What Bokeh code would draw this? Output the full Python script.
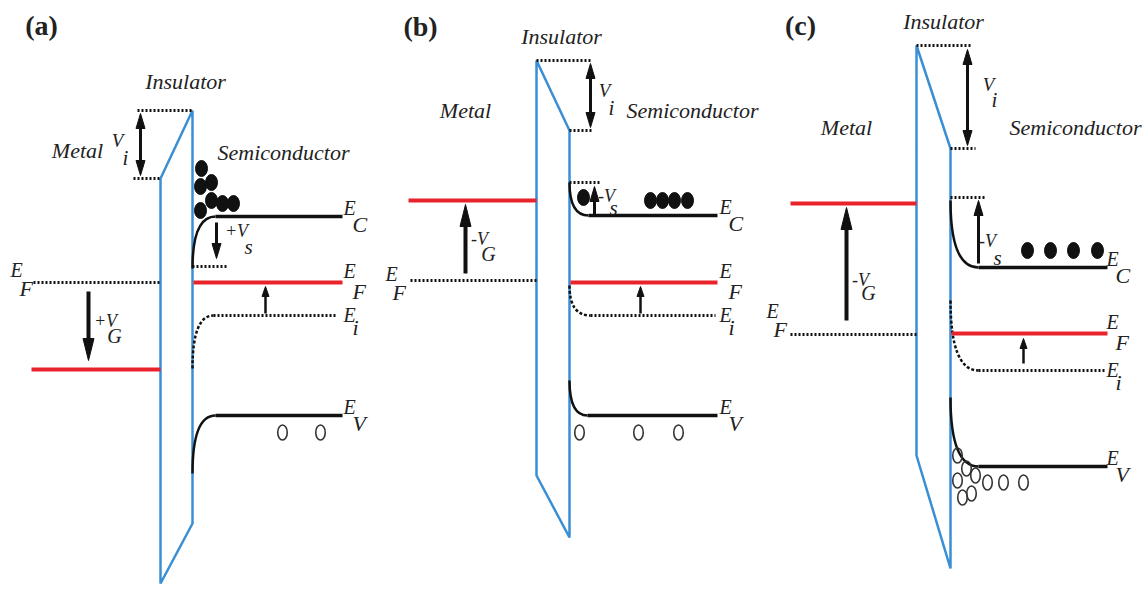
from bokeh.plotting import figure
from bokeh.models import Range1d
from bokeh.core.properties import value
from bokeh.embed import file_html
from bokeh.resources import INLINE

# ---------------- data (pixel-space schematic, y grows downward) ----------------
panel_labels = ["(a)", "(b)", "(c)"]
panel_label_x = [41, 420, 800]
panel_label_y = [25, 26, 25]

# insulator outline corners
ins_lx = [160, 536, 916]
ins_rx = [192, 569, 950]
ins_l_top = [178, 60, 45]
ins_r_top = [110, 130, 148]
ins_l_bot = [583, 475, 455]
ins_r_bot = [523, 537, 568]

# V_i guide dotted lines
vi_top_y = [110, 60, 45]
vi_top_x0 = [137, 536, 916]
vi_top_x1 = [192, 592, 972]
vi_bot_y = [178, 130, 148]
vi_bot_x0 = [133, 569, 950]
vi_bot_x1 = [160, 592, 975]

# metal side
metal_x0 = [33, 410, 790]
metal_ef_y = [282, 280, 334]       # original Fermi level (dotted)
metal_red_x0 = [31, 408, 790]
metal_red_y = [369, 200, 203]      # shifted metal Fermi level (red)

# semiconductor bands: bulk level, surface level, bending width
semi_x1 = [342, 717, 1107]
ec_y = [216, 215, 267]
ec_surf = [268, 182, 200]
ec_bend = [23, 19, 28]
ei_y = [315, 315, 370]
ei_x1 = [336, 715, 1106]
ei_surf = [368, 285, 300]
ei_bend = [21, 21, 28]
ev_y = [415, 415, 466]
ev_surf = [473, 380, 397]
ev_bend = [23, 18, 28]
ef_y = [282, 282, 333]

# surface potential dotted guide
vs_guide_y = [266, 182, 197]
vs_guide_x1 = [227, 600, 985]

# arrows (x, from, to)
vg_x = [88, 465, 846]
vg_y0 = [291, 273, 320]
vg_y1 = [360, 204, 207]
vi_x = [140, 590, 967]
vi_y0 = [113, 63, 49]
vi_y1 = [175, 127, 145]
vs_x = [216, 594, 978]
vs_y0 = [222, 214, 263]
vs_y1 = [258, 186, 200]
efs_x = [265, 640, 1023]
efs_y0 = [313, 313, 363]
efs_y1 = [286, 286, 338]

# carriers
electron_x = [201, 211, 200, 211, 200, 222, 233,
              583, 650, 662, 674, 687,
              1027, 1050, 1073, 1097]
electron_y = [168, 182, 186, 200, 210, 203, 203,
              197, 200, 200, 200, 200,
              250, 250, 250, 250]
hole_x = [282, 320, 579, 638, 678,
          957, 966, 957, 975, 962, 971, 987, 1003, 1023]
hole_y = [432, 432, 432, 432, 432,
          455, 468, 480, 475, 497, 493, 482, 482, 482]

# texts
ins_text_x = [185, 561, 943]
ins_text_y = [81, 36, 21]
metal_text_x = [77, 465, 846]
metal_text_y = [150, 110, 127]
semi_text_x = [283, 692, 1075]
semi_text_y = [152, 110, 127]

vi_lab_x = [117, 604, 988]
vi_lab_y = [140, 90, 84]
vi_sub_x = [125, 611, 994]
vi_sub_y = [157, 107, 99]

vs_lab = ["+V", "-V", "-V"]
vs_lab_x = [236, 606, 987]
vs_lab_y = [230, 195, 240]
vs_sub_x = [248, 613, 997]
vs_sub_y = [246, 207, 257]

vg_lab = ["+V", "-V", "-V"]
vg_lab_x = [105, 479, 860]
vg_lab_y = [320, 238, 279]
vg_sub_x = [114, 488, 868]
vg_sub_y = [335, 253, 292]

mef_E_x = [10, 385, 766]
mef_E_y = [269, 273, 310]
mef_sub_x = [19, 392, 773]
mef_sub_y = [288, 292, 329]

band_lab_x = [343, 719, 1106]
band_sub_dx = 9
band_names = ["C", "F", "i", "V"]
band_E_dy = [-9, -12, -1, -9]
band_sub_dy = [8, 9, 12, 8]

# ---------------- styling ----------------
BLUE = "#3a8fd4"
RED = "#e8232b"
BLACK = "#111111"
TXT = "#222222"
FONT = "Liberation Serif"

W, H = 1143, 590
p = figure(width=W, height=H, x_range=Range1d(0, W), y_range=Range1d(H, 0),
           x_axis_type=None, y_axis_type=None, toolbar_location=None,
           output_backend="svg", min_border=0, outline_line_color=None)
p.background_fill_color = "white"
p.border_fill_color = "white"
p.grid.visible = False


def txt(xs, ys, texts, size, align="left", style="italic", font=FONT):
    p.text(x=xs, y=ys, text=texts, text_font=value(font),
           text_font_size=f"{size}px", text_font_style=style,
           text_align=align, text_baseline="middle", text_color=TXT)


def arrows(xs, y0s, y1s, head_len, head_w, shaft, double=False):
    sx, sy0, sy1, tx, ty = [], [], [], [], []
    for x, a, b in zip(xs, y0s, y1s):
        d = 1 if b > a else -1
        start = a + d * head_len if double else a
        end = b - d * head_len
        sx.append(x); sy0.append(start); sy1.append(end)
        tx.append([x, x - head_w / 2, x + head_w / 2])
        ty.append([b, end, end])
        if double:
            tx.append([x, x - head_w / 2, x + head_w / 2])
            ty.append([a, start, start])
    p.segment(x0=sx, y0=sy0, x1=sx, y1=sy1, line_color=BLACK, line_width=shaft)
    p.patches(xs=tx, ys=ty, fill_color=BLACK, line_color=BLACK, line_width=1)


# insulator outline
p.patches(xs=[[lx, rx, rx, lx] for lx, rx in zip(ins_lx, ins_rx)],
          ys=[[lt, rt, rb, lb] for lt, rt, rb, lb in zip(ins_l_top, ins_r_top, ins_r_bot, ins_l_bot)],
          fill_alpha=0, line_color=BLUE, line_width=2.5)

# V_i guides
p.segment(x0=vi_top_x0, y0=vi_top_y, x1=vi_top_x1, y1=vi_top_y,
          line_color=BLACK, line_width=3, line_dash="2 2")
p.segment(x0=vi_bot_x0, y0=vi_bot_y, x1=vi_bot_x1, y1=vi_bot_y,
          line_color=BLACK, line_width=3, line_dash="2 2")

# metal levels
p.segment(x0=metal_x0, y0=metal_ef_y, x1=ins_lx, y1=metal_ef_y,
          line_color=BLACK, line_width=3, line_dash="2 2")
p.segment(x0=metal_red_x0, y0=metal_red_y, x1=ins_lx, y1=metal_red_y,
          line_color=RED, line_width=4)

# semiconductor bands
ec_x0 = [rx + b for rx, b in zip(ins_rx, ec_bend)]
ei_x0 = [rx + b for rx, b in zip(ins_rx, ei_bend)]
ev_x0 = [rx + b for rx, b in zip(ins_rx, ev_bend)]
p.quadratic(x0=ins_rx, y0=ec_surf, x1=ec_x0, y1=ec_y, cx=ins_rx, cy=ec_y,
            line_color=BLACK, line_width=2.5)
p.segment(x0=ec_x0, y0=ec_y, x1=semi_x1, y1=ec_y, line_color=BLACK, line_width=3.5)
p.quadratic(x0=ins_rx, y0=ei_surf, x1=ei_x0, y1=ei_y, cx=ins_rx, cy=ei_y,
            line_color=BLACK, line_width=2.5, line_dash="3 2")
p.segment(x0=ei_x0, y0=ei_y, x1=ei_x1, y1=ei_y, line_color=BLACK, line_width=3, line_dash="2 2")
p.quadratic(x0=ins_rx, y0=ev_surf, x1=ev_x0, y1=ev_y, cx=ins_rx, cy=ev_y,
            line_color=BLACK, line_width=2.5)
p.segment(x0=ev_x0, y0=ev_y, x1=semi_x1, y1=ev_y, line_color=BLACK, line_width=3.5)
p.segment(x0=[x + 1 for x in ins_rx], y0=ef_y, x1=semi_x1, y1=ef_y, line_color=RED, line_width=4)
p.segment(x0=ins_rx, y0=vs_guide_y, x1=vs_guide_x1, y1=vs_guide_y,
          line_color=BLACK, line_width=3, line_dash="2 2")

# arrows
arrows(vg_x, vg_y0, vg_y1, 22, 11, 4)
arrows(vi_x, vi_y0, vi_y1, 15, 9, 3, double=True)
arrows(vs_x, vs_y0, vs_y1, 15, 9, 3)
arrows(efs_x, efs_y0, efs_y1, 10, 7, 2.5)

# carriers
p.ellipse(x=electron_x, y=electron_y, width=12, height=16,
          fill_color=BLACK, line_color=BLACK, line_width=1)
p.ellipse(x=hole_x, y=hole_y, width=9.5, height=15,
          fill_alpha=0, line_color="#333333", line_width=1.6)

# texts
txt(panel_label_x, panel_label_y, panel_labels, 28, align="center", style="bold")
txt(ins_text_x, ins_text_y, ["Insulator"] * 3, 22, align="center")
txt(metal_text_x, metal_text_y, ["Metal"] * 3, 22, align="center")
txt(semi_text_x, semi_text_y, ["Semiconductor"] * 3, 22, align="center")
txt(vi_lab_x, vi_lab_y, ["V"] * 3, 19, align="center")
txt(vi_sub_x, vi_sub_y, ["i"] * 3, 21, align="center")
txt(vs_lab_x, vs_lab_y, vs_lab, 18, align="center")
txt(vs_sub_x, vs_sub_y, ["s"] * 3, 21, align="center")
txt(vg_lab_x, vg_lab_y, vg_lab, 18, align="center")
txt(vg_sub_x, vg_sub_y, ["G"] * 3, 20, align="center")
txt(mef_E_x, mef_E_y, ["E"] * 3, 20)
txt(mef_sub_x, mef_sub_y, ["F"] * 3, 22)

levels = [ec_y, ef_y, ei_y, ev_y]
for name, lv, edy, sdy in zip(band_names, levels, band_E_dy, band_sub_dy):
    txt(band_lab_x, [y + edy for y in lv], ["E"] * 3, 20)
    txt([x + band_sub_dx for x in band_lab_x], [y + sdy for y in lv], [name] * 3, 22)

open("out.html", "w").write(file_html(p, INLINE))
